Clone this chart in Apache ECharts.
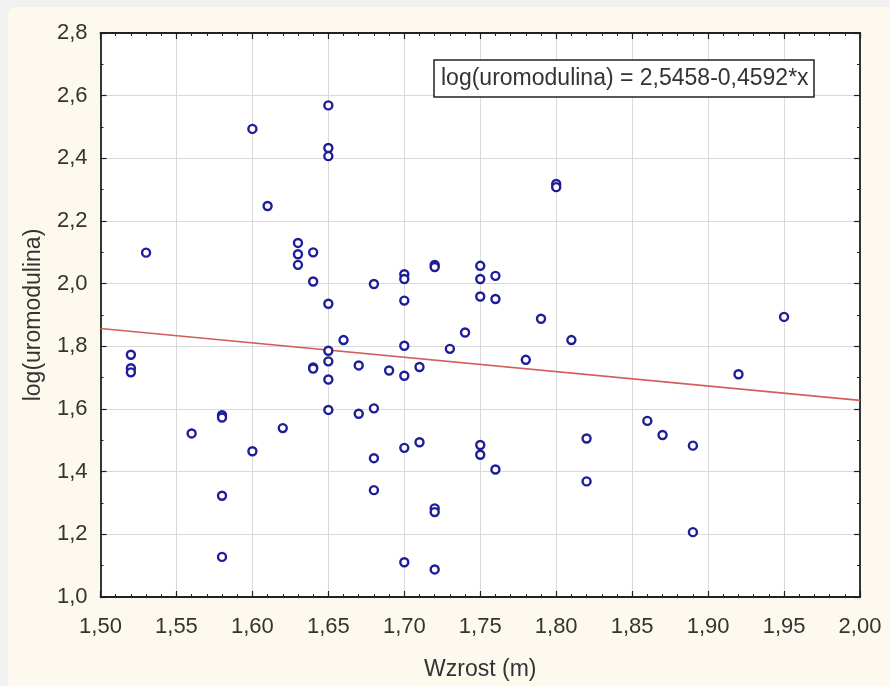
<!DOCTYPE html>
<html>
<head>
<meta charset="utf-8">
<script src="https://cdn.jsdelivr.net/npm/echarts@6/dist/echarts.min.js"></script>
<style>
  html, body { margin: 0; padding: 0; background: #f1f1f1; }
  #chart { width: 890px; height: 686px; }
</style>
</head>
<body>
<div id="chart"></div>
<script>
// Height (m) against log(uromodulin) for each subject
const heightM = [
  1.52, 1.52, 1.52, 1.53, 1.56, 1.58, 1.58, 1.58, 1.58, 1.60, 1.60, 1.61, 1.62,
  1.63, 1.63, 1.63, 1.64, 1.64, 1.64, 1.64,
  1.65, 1.65, 1.65, 1.65, 1.65, 1.65, 1.65, 1.65, 1.66, 1.67, 1.67,
  1.68, 1.68, 1.68, 1.68, 1.69,
  1.70, 1.70, 1.70, 1.70, 1.70, 1.70, 1.70, 1.71, 1.71,
  1.72, 1.72, 1.72, 1.72, 1.72, 1.73, 1.74,
  1.75, 1.75, 1.75, 1.75, 1.75, 1.76, 1.76, 1.76, 1.78, 1.79, 1.80, 1.80, 1.81,
  1.82, 1.82, 1.86, 1.87, 1.89, 1.89, 1.92, 1.95
];
const logUromodulin = [
  1.773, 1.730, 1.717, 2.099, 1.522, 1.580, 1.573, 1.323, 1.128, 2.494, 1.465, 2.248, 1.539,
  2.130, 2.094, 2.060, 2.100, 2.007, 1.733, 1.729,
  2.569, 2.433, 2.407, 1.936, 1.786, 1.752, 1.694, 1.597, 1.820, 1.739, 1.585,
  1.999, 1.602, 1.443, 1.341, 1.723,
  2.030, 2.015, 1.946, 1.802, 1.706, 1.476, 1.111, 1.734, 1.494,
  2.060, 2.053, 1.283, 1.271, 1.088, 1.792, 1.844,
  2.057, 2.015, 1.959, 1.485, 1.454, 2.025, 1.951, 1.407, 1.757, 1.888, 2.318, 2.308, 1.820,
  1.506, 1.369, 1.562, 1.517, 1.483, 1.207, 1.711, 1.894
];

// Fitted regression: log(uromodulina) = intercept + slope * x
const intercept = 2.5458;
const slope = -0.4592;
const fitRange = [1.50, 2.00];

const xMin = 1.50, xMax = 2.00, xStep = 0.05;
const yMin = 1.0, yMax = 2.8, yStep = 0.2;

const points = heightM.map((h, i) => [h, logUromodulin[i]]);
const fitLine = fitRange.map(x => [x, intercept + slope * x]);

const comma = (v, d) => v.toFixed(d).replace('.', ',');
const fontFamily = 'Liberation Sans, Arial, sans-serif';
const txt = '#333333';

const tickCommon = { show: true, inside: true, length: 6, lineStyle: { color: '#222', width: 1.2 } };
const minorCommon = { show: true, length: 3, lineStyle: { color: '#222', width: 1 } };
const lineCommon = { show: true, lineStyle: { color: '#222', width: 1.8 } };

const chart = echarts.init(document.getElementById('chart'));
chart.setOption({
  animation: false,
  backgroundColor: '#f1f1f1',
  graphic: [{
    type: 'rect',
    z: -10,
    shape: { x: 8, y: 7, width: 900, height: 700, r: 8 },
    style: { fill: '#fdf9ee' }
  }],
  title: {
    text: 'log(uromodulina) = ' + comma(intercept, 4) + '-' + comma(-slope, 4) + '*x',
    left: 434,
    top: 60,
    padding: [6, 6, 5, 7],
    backgroundColor: '#ffffff',
    borderColor: '#222',
    borderWidth: 1.5,
    textStyle: { fontFamily, fontSize: 23, fontWeight: 'normal', color: txt, lineHeight: 26 }
  },
  grid: {
    left: 100.5, right: 30, top: 33, bottom: 83,
    show: true, backgroundColor: '#ffffff', borderWidth: 0
  },
  xAxis: [{
    type: 'value', position: 'bottom',
    min: xMin, max: xMax, interval: xStep,
    name: 'Wzrost (m)', nameLocation: 'middle', nameGap: 61,
    nameTextStyle: { fontFamily, fontSize: 23, color: txt },
    axisLine: lineCommon,
    axisTick: tickCommon,
    minorTick: Object.assign({ splitNumber: 5 }, minorCommon),
    axisLabel: { fontFamily, fontSize: 22, color: txt, margin: 19, formatter: v => comma(v, 2) },
    splitLine: { show: true, lineStyle: { color: '#d9d9d9', width: 1 } }
  }, {
    type: 'value', position: 'top',
    min: xMin, max: xMax, interval: xStep,
    axisLine: lineCommon,
    axisTick: tickCommon,
    minorTick: Object.assign({ splitNumber: 5 }, minorCommon),
    axisLabel: { show: false },
    splitLine: { show: false }
  }],
  yAxis: [{
    type: 'value', position: 'left',
    min: yMin, max: yMax, interval: yStep,
    name: 'log(uromodulina)', nameLocation: 'middle', nameGap: 55, nameRotate: 90,
    nameTextStyle: { fontFamily, fontSize: 23, color: txt },
    axisLine: lineCommon,
    axisTick: tickCommon,
    minorTick: Object.assign({ splitNumber: 2 }, minorCommon),
    axisLabel: { fontFamily, fontSize: 22, color: txt, margin: 13, formatter: v => comma(v, 1) },
    splitLine: { show: true, lineStyle: { color: '#d9d9d9', width: 1 } }
  }, {
    type: 'value', position: 'right',
    min: yMin, max: yMax, interval: yStep,
    axisLine: lineCommon,
    axisTick: tickCommon,
    minorTick: Object.assign({ splitNumber: 2 }, minorCommon),
    axisLabel: { show: false },
    splitLine: { show: false }
  }],
  series: [{
    type: 'line',
    data: fitLine,
    xAxisIndex: 0, yAxisIndex: 0,
    symbol: 'none',
    lineStyle: { color: '#d35d5b', width: 1.6 },
    z: 2
  }, {
    type: 'scatter',
    data: points,
    xAxisIndex: 0, yAxisIndex: 0,
    symbol: 'circle',
    symbolSize: 8,
    itemStyle: { color: '#ffffff', opacity: 1, borderColor: '#1d1d9a', borderWidth: 2.4 },
    z: 3
  }]
});
</script>
</body>
</html>
